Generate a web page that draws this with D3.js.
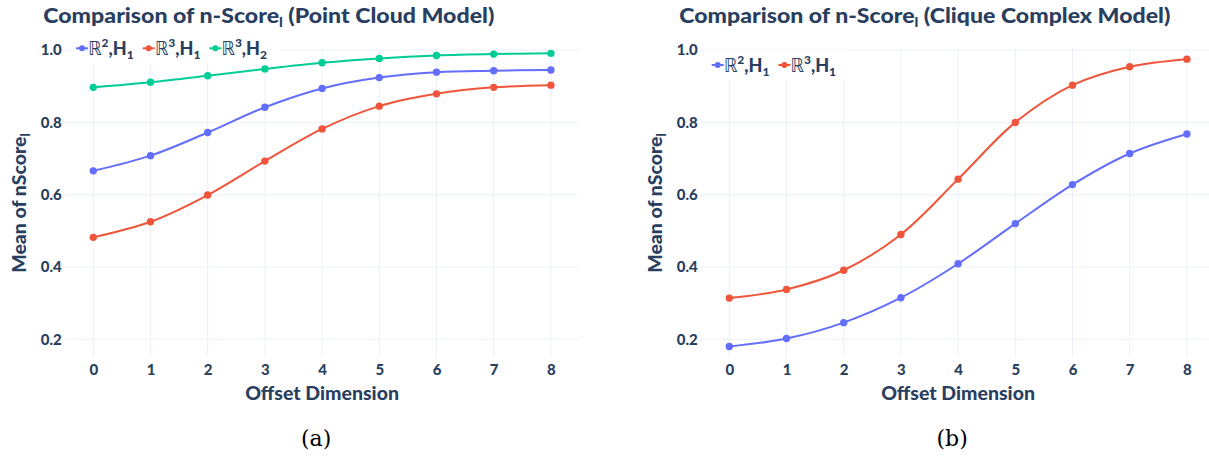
<!DOCTYPE html>
<html><head><meta charset="utf-8">
<script src="https://cdn.jsdelivr.net/npm/d3@7"></script>
<style>body{margin:0;background:#fff}svg{display:block}</style>
</head><body>
<svg id="c" width="1209" height="456"></svg>
<script>
// ---------- data ----------
const offsets = [0, 1, 2, 3, 4, 5, 6, 7, 8];
const xTicks = [0, 1, 2, 3, 4, 5, 6, 7, 8];
const yTicks = [0.2, 0.4, 0.6, 0.8, 1.0];
// (a) Point Cloud Model
const pcR2H1 = [0.666, 0.708, 0.772, 0.842, 0.894, 0.924, 0.939, 0.943, 0.945];
const pcR3H1 = [0.482, 0.525, 0.599, 0.693, 0.782, 0.845, 0.879, 0.897, 0.903];
const pcR3H2 = [0.897, 0.911, 0.929, 0.948, 0.965, 0.977, 0.985, 0.989, 0.991];
// (b) Clique Complex Model
const ccR2H1 = [0.180, 0.202, 0.246, 0.315, 0.409, 0.520, 0.628, 0.714, 0.768];
const ccR3H1 = [0.314, 0.338, 0.391, 0.490, 0.643, 0.800, 0.903, 0.954, 0.975];
const legendDims = ["2", "3", "3"];
const legendHoms = ["1", "1", "2"];
const titles = ["Comparison of n-Score", "Comparison of n-Score"];
const titleTails = [" (Point Cloud Model)", " (Clique Complex Model)"];
const panelLabels = ["(a)", "(b)"];
const xTitle = "Offset Dimension";
const yTitle = "Mean of nScore";

// ---------- style ----------
const FONT = "Lato, 'Open Sans', sans-serif";
const TXT = "#2a3f5f";
const GRID = "#ebf0f8";
const COL = {b: "#636efa", r: "#EF553B", g: "#00cc96"};

const svg = d3.select("#c");

function drawPanel(p) {
  const g = svg.append("g");
  const x = d3.scaleLinear().domain([-0.5, 8.5]).range([p.left, p.left + 514.8]);
  const y = d3.scaleLinear().domain([0.151, 1.005]).range([357, 48.3]);
  const top = 48.3, bot = 357;

  // grid
  g.selectAll(".vg").data(xTicks).join("line")
    .attr("x1", d => x(d)).attr("x2", d => x(d)).attr("y1", top).attr("y2", bot)
    .attr("stroke", GRID).attr("stroke-width", 1);
  g.selectAll(".hg").data(yTicks).join("line")
    .attr("x1", x(-0.5)).attr("x2", x(8.5)).attr("y1", d => y(d)).attr("y2", d => y(d))
    .attr("stroke", GRID).attr("stroke-width", 1);

  // legend background
  g.append("rect").attr("x", p.legX - 5).attr("y", p.legY - 15).attr("width", p.legW).attr("height", 30)
    .attr("fill", "#fff");

  // series
  const line = d3.line().x((d, i) => x(offsets[i])).y(d => y(d)).curve(d3.curveCatmullRom.alpha(0.5));
  p.series.forEach(s => {
    g.append("path").attr("d", line(s.values)).attr("fill", "none")
      .attr("stroke", s.color).attr("stroke-width", 2);
    g.selectAll(null).data(s.values).join("circle")
      .attr("cx", (d, i) => x(offsets[i])).attr("cy", d => y(d)).attr("r", 3.7)
      .attr("fill", s.color);
  });

  // axes tick labels via d3 axis
  const xa = d3.axisBottom(x).tickValues(xTicks).tickSize(0).tickPadding(0).tickFormat(d3.format("d"));
  const xg = g.append("g").attr("transform", `translate(0,${bot + 7})`).call(xa);
  xg.select(".domain").remove();
  xg.selectAll("text").attr("font-family", FONT).attr("font-weight", 900).attr("font-size", 15)
    .attr("fill", TXT).attr("dy", "0.71em");
  const ya = d3.axisLeft(y).tickValues(yTicks).tickSize(0).tickPadding(3).tickFormat(d3.format(".1f"));
  const yg = g.append("g").attr("transform", `translate(${p.left},0)`).call(ya);
  yg.select(".domain").remove();
  yg.selectAll("text").attr("font-family", FONT).attr("font-weight", 900).attr("font-size", 15)
    .attr("fill", TXT);

  // axis titles
  g.append("text").attr("x", x(4)).attr("y", 400).attr("text-anchor", "middle")
    .attr("font-family", FONT).attr("font-weight", 900).attr("font-size", 19.5).attr("fill", TXT)
    .text(xTitle);
  const yt = g.append("text").attr("transform", `translate(${p.left - 39},203) rotate(-90)`)
    .attr("text-anchor", "middle")
    .attr("font-family", FONT).attr("font-weight", 900).attr("font-size", 19.5).attr("fill", TXT);
  yt.append("tspan").text(yTitle);
  yt.append("tspan").attr("font-size", 13).attr("dy", 4).text("l");

  // title
  const tt = g.append("text").attr("x", p.left - 21.4).attr("y", 23)
    .attr("font-family", FONT).attr("font-weight", 900).attr("font-size", 20).attr("fill", TXT);
  tt.append("tspan").text(p.title);
  tt.append("tspan").attr("font-size", 13).attr("dy", 4).text("l");
  tt.append("tspan").attr("dy", -4).text(p.tail);
  tt.attr("textLength", p.titleW).attr("lengthAdjust", "spacingAndGlyphs");

  // legend
  let cx = p.legX;
  p.series.forEach((s, k) => {
    g.append("line").attr("x1", cx).attr("x2", cx + 12).attr("y1", p.legY).attr("y2", p.legY)
      .attr("stroke", s.color).attr("stroke-width", 2);
    g.append("circle").attr("cx", cx + 6).attr("cy", p.legY).attr("r", 3).attr("fill", s.color);
    const t = g.append("text").attr("x", cx + 12).attr("y", p.legY + 7)
      .attr("font-family", FONT).attr("font-weight", 900).attr("font-size", 18).attr("fill", TXT);
    t.append("tspan").attr("font-family", "'DejaVu Sans Condensed', 'DejaVu Sans'").attr("font-weight", 400)
      .attr("font-size", 19).text("ℝ");
    t.append("tspan").attr("font-size", 12).attr("dy", -8).text(s.dim);
    t.append("tspan").attr("dy", 8).text(",H");
    t.append("tspan").attr("font-size", 12).attr("dy", 4).text(s.hom);
    cx = cx + 12 + t.node().getComputedTextLength() + 9;
  });

  // panel label
  g.append("text").attr("x", x(4) - 6).attr("y", 446).attr("text-anchor", "middle")
    .attr("font-family", "'DejaVu Serif', serif").attr("font-size", 22).attr("fill", "#000")
    .text(p.label);
}

drawPanel({
  left: 64.7, title: titles[0], tail: titleTails[0], titleW: 451, label: panelLabels[0],
  legX: 76, legY: 48.3, legW: 210,
  series: [
    {values: pcR2H1, color: COL.b, dim: legendDims[0], hom: legendHoms[0]},
    {values: pcR3H1, color: COL.r, dim: legendDims[1], hom: legendHoms[1]},
    {values: pcR3H2, color: COL.g, dim: legendDims[2], hom: legendHoms[2]}
  ]
});
drawPanel({
  left: 700.7, title: titles[1], tail: titleTails[1], titleW: 491, label: panelLabels[1],
  legX: 711.7, legY: 65, legW: 140,
  series: [
    {values: ccR2H1, color: COL.b, dim: legendDims[0], hom: legendHoms[0]},
    {values: ccR3H1, color: COL.r, dim: legendDims[1], hom: legendHoms[1]}
  ]
});
</script>
</body></html>
